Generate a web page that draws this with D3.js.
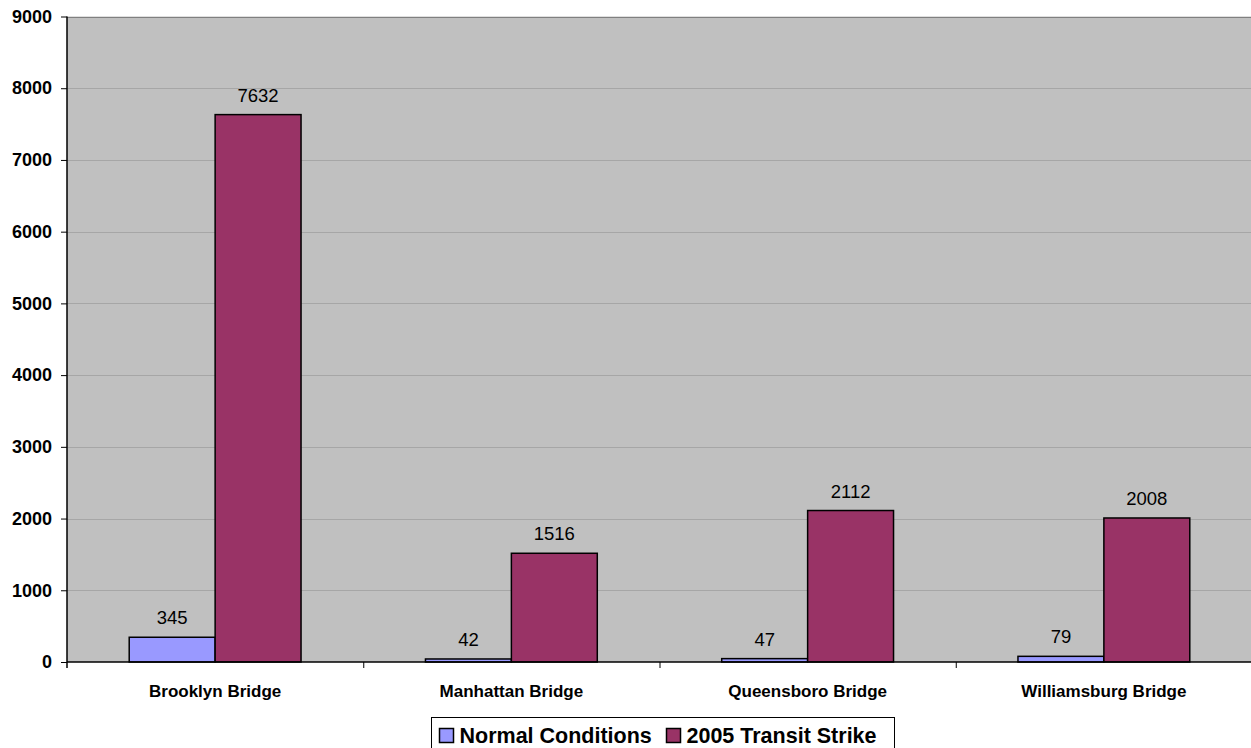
<!DOCTYPE html>
<html><head><meta charset="utf-8">
<script src="https://cdn.jsdelivr.net/npm/d3@7"></script>
<style>body{margin:0;background:#fff;overflow:hidden}svg{display:block;font-family:"Liberation Sans",Arial,sans-serif}</style>
</head><body>
<svg id="c" width="1251" height="748"></svg>
<script>
const categories = ["Brooklyn Bridge","Manhattan Bridge","Queensboro Bridge","Williamsburg Bridge"];
const seriesNames = ["Normal Conditions","2005 Transit Strike"];
const normalValues = [345,42,47,79];
const strikeValues = [7632,1516,2112,2008];
const yTicks = [0,1000,2000,3000,4000,5000,6000,7000,8000,9000];
const colors = ["#9999ff","#993366"];

const svg = d3.select("#c");
const L=67, R=1252, T=16.5, B=662;
const x = d3.scaleBand().domain(categories).range([L,R]).paddingInner(0).paddingOuter(0);
const y = d3.scaleLinear().domain([0,9000]).range([B,T]);
const groupW = x.bandwidth()*0.58;
const xs = d3.scaleBand().domain(seriesNames).range([0,groupW]);

svg.append("rect").attr("x",L).attr("y",T).attr("width",R-L).attr("height",B-T).attr("fill","#c0c0c0");
// gridlines
svg.append("g").selectAll("line").data(yTicks.slice(1)).join("line")
  .attr("x1",L).attr("x2",R).attr("y1",d=>Math.round(y(d))+0.5).attr("y2",d=>Math.round(y(d))+0.5)
  .attr("stroke",d=>d===9000?"#808080":"#a6a6a6").attr("stroke-width",1);

const series = [normalValues, strikeValues];
const g = svg.append("g");
series.forEach((vals,si)=>{
  g.selectAll(null).data(categories).join("rect")
    .attr("x",(c)=>x(c)+(x.bandwidth()-groupW)/2+xs(seriesNames[si]))
    .attr("y",(c,i)=>y(vals[i]))
    .attr("width",xs.bandwidth())
    .attr("height",(c,i)=>B-y(vals[i]))
    .attr("fill",colors[si]).attr("stroke","#000").attr("stroke-width",1.5);
  g.selectAll(null).data(categories).join("text")
    .attr("x",(c)=>x(c)+(x.bandwidth()-groupW)/2+xs(seriesNames[si])+xs.bandwidth()/2)
    .attr("y",(c,i)=>y(vals[i])-13)
    .attr("text-anchor","middle").attr("font-size","18.5px").attr("fill","#000")
    .text((c,i)=>vals[i]);
});

// y axis
const ya = svg.append("g").attr("transform",`translate(${L},0)`)
  .call(d3.axisLeft(y).tickValues(yTicks).tickSize(6).tickPadding(9).tickFormat(d3.format("d")));
ya.select(".domain").attr("stroke","#000").attr("stroke-width",1.5).attr("d",`M0,${T}V${B+6}`);
ya.selectAll(".tick line").attr("stroke","#000");
ya.selectAll("text").attr("font-size","18px").attr("font-weight","bold").attr("font-family","Liberation Sans, Arial, sans-serif").attr("fill","#000");

// x axis
const xa = svg.append("g").attr("transform",`translate(0,${B})`)
  .call(d3.axisBottom(x).tickSize(0).tickPadding(16));
xa.select(".domain").attr("stroke","#000").attr("stroke-width",1.5).attr("d",`M${L},0H${R}`);
xa.selectAll("text").attr("y",35).attr("dy",0).attr("font-size","17px").attr("font-weight","bold").attr("font-family","Liberation Sans, Arial, sans-serif").attr("fill","#000");
// category separators
svg.append("g").selectAll("line").data(categories.slice(1)).join("line")
  .attr("x1",c=>x(c)+0.5).attr("x2",c=>x(c)+0.5).attr("y1",B).attr("y2",B+6).attr("stroke","#000");

// legend
const lg = svg.append("g");
lg.append("rect").attr("x",431.5).attr("y",717.5).attr("width",463).attr("height",40).attr("fill","#fff").attr("stroke","#000");
const items = [{n:seriesNames[0],c:colors[0],x:439.5},{n:seriesNames[1],c:colors[1],x:666.5}];
items.forEach(it=>{
  lg.append("rect").attr("x",it.x).attr("y",728.5).attr("width",14).attr("height",14).attr("fill",it.c).attr("stroke","#000").attr("stroke-width",1.5);
  lg.append("text").attr("x",it.x+20).attr("y",743).attr("font-size","21.5px").attr("font-weight","bold").attr("fill","#000").text(it.n);
});
</script>
</body></html>
